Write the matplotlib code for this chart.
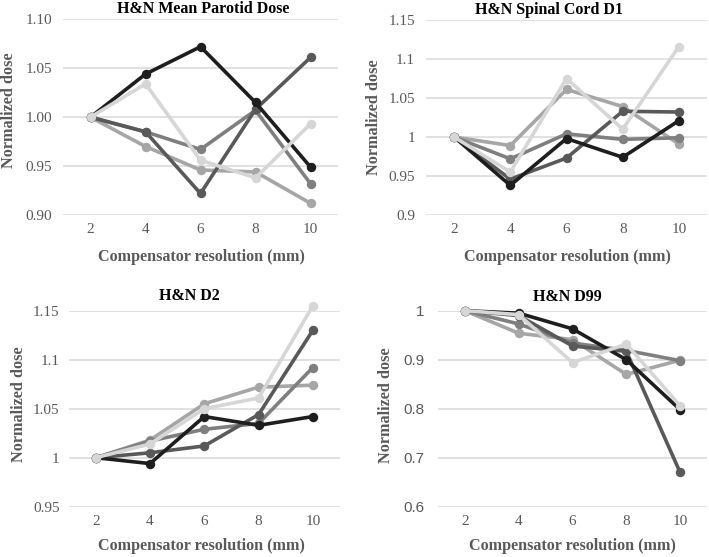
import matplotlib
matplotlib.use("Agg")
import matplotlib.pyplot as plt

resolution = [2, 4, 6, 8, 10]
x_labels = ["2", "4", "6", "8", "10"]

series_colors = ["#a6a6a6", "#7f7f7f", "#595959", "#1e1e1e", "#d6d6d6"]

# each panel: series in draw order (light, mid, dark, black, very light)
parotid_light = [1.000, 0.970, 0.946, 0.944, 0.912]
parotid_mid = [1.000, 0.985, 0.967, 1.007, 0.932]
parotid_dark = [1.000, 0.985, 0.922, 1.008, 1.061]
parotid_black = [1.000, 1.044, 1.072, 1.015, 0.949]
parotid_vlight = [1.000, 1.034, 0.956, 0.938, 0.993]

cord_light = [1.000, 0.989, 1.061, 1.039, 0.991]
cord_mid = [1.000, 0.972, 1.004, 0.997, 0.999]
cord_dark = [1.000, 0.946, 0.973, 1.033, 1.032]
cord_black = [1.000, 0.938, 0.998, 0.974, 1.021]
cord_vlight = [1.000, 0.955, 1.075, 1.010, 1.116]

d2_light = [1.000, 1.018, 1.055, 1.072, 1.074]
d2_mid = [1.000, 1.017, 1.029, 1.035, 1.092]
d2_dark = [1.000, 1.005, 1.012, 1.044, 1.130]
d2_black = [1.000, 0.994, 1.042, 1.033, 1.042]
d2_vlight = [1.000, 1.014, 1.050, 1.061, 1.155]

d99_light = [1.000, 0.954, 0.941, 0.870, 0.899]
d99_mid = [1.000, 0.973, 0.934, 0.919, 0.898]
d99_dark = [1.000, 0.990, 0.928, 0.917, 0.670]
d99_black = [1.000, 0.995, 0.963, 0.900, 0.798]
d99_vlight = [1.000, 0.992, 0.894, 0.932, 0.806]

titles = ["H&N Mean Parotid Dose", "H&N Spinal Cord D1", "H&N D2", "H&N D99"]
y_ticks = [
    [0.90, 0.95, 1.00, 1.05, 1.10],
    [0.9, 0.95, 1.0, 1.05, 1.1, 1.15],
    [0.95, 1.0, 1.05, 1.1, 1.15],
    [0.6, 0.7, 0.8, 0.9, 1.0],
]
y_tick_labels = [
    ["0.90", "0.95", "1.00", "1.05", "1.10"],
    ["0.9", "0.95", "1", "1.05", "1.1", "1.15"],
    ["0.95", "1", "1.05", "1.1", "1.15"],
    ["0.6", "0.7", "0.8", "0.9", "1"],
]
x_title = "Compensator resolution (mm)"
y_title = "Normalized dose"

panels = [
    [parotid_light, parotid_mid, parotid_dark, parotid_black, parotid_vlight],
    [cord_light, cord_mid, cord_dark, cord_black, cord_vlight],
    [d2_light, d2_mid, d2_dark, d2_black, d2_vlight],
    [d99_light, d99_mid, d99_dark, d99_black, d99_vlight],
]

W, H = 709, 557
fig = plt.figure(figsize=(W / 100, H / 100), dpi=100)

# axes boxes in pixels: left, right, top, bottom
boxes = [
    (63, 338, 19.3, 215),
    (426, 707, 20, 215),
    (68.6, 340, 310.7, 506.7),
    (438, 707, 310.7, 506.7),
]
title_pos = [(203.5, 9), (549, 9.5), (189.5, 296), (567.5, 296.5)]
xlabel_pos = [(201.5, 257), (567.5, 257), (201.5, 546), (572.5, 546.5)]
ylabel_pos = [(9, 110), (374, 117), (19, 404.5), (386, 405)]
ypads = [8, 8, 6.5, 9.5]

serif = ["Liberation Serif", "DejaVu Serif"]
sans = ["Liberation Sans", "DejaVu Sans"]
label_gray = "#595959"

for i, (data, box) in enumerate(zip(panels, boxes)):
    l, r, t, b = box
    ax = fig.add_axes([l / W, 1 - b / H, (r - l) / W, (b - t) / H])
    for vals, col in zip(data, series_colors):
        ax.plot(resolution, vals, color=col, lw=2.6, marker="o", ms=6.8,
                markeredgewidth=0, solid_capstyle="round", zorder=3,
                clip_on=False)
    ticks = y_ticks[i]
    ax.set_ylim(ticks[0], ticks[-1])
    ax.set_xlim(1, 11)
    ax.set_yticks(ticks)
    fam = sans if i == 3 else serif
    ax.set_yticklabels(y_tick_labels[i], family=fam, fontsize=11, color=label_gray)
    ax.set_xticks(resolution)
    ax.set_xticklabels(x_labels, family=serif, fontsize=11, color=label_gray)
    ax.tick_params(axis="both", length=0)
    ax.tick_params(axis="y", pad=ypads[i])
    ax.tick_params(axis="x", pad=6)
    ax.grid(axis="y", color="#d9d9d9", lw=1.1, zorder=0)
    ax.set_axisbelow(True)
    for s in ax.spines.values():
        s.set_visible(False)
    ax.patch.set_alpha(0)

    tx, ty = title_pos[i]
    fig.text(tx / W, 1 - ty / H, titles[i], ha="center", va="center",
             family=serif, fontweight="bold", fontsize=11.5, color="black")
    lx, ly = xlabel_pos[i]
    fig.text(lx / W, 1 - ly / H, x_title, ha="center", va="center",
             family=serif, fontweight="bold", fontsize=11.6, color=label_gray)
    yx, yy = ylabel_pos[i]
    fig.text(yx / W, 1 - yy / H, y_title, ha="center", va="center", rotation=90,
             family=serif, fontweight="bold", fontsize=11.7, color=label_gray)

fig.savefig("out.png", dpi=100, facecolor="white")
